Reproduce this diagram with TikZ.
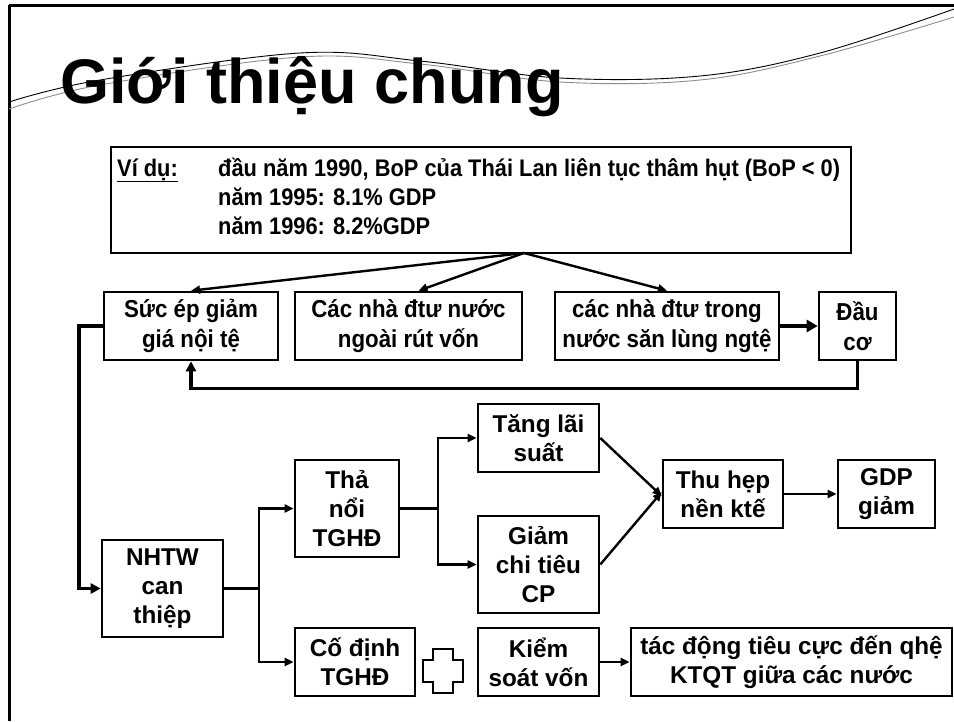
\documentclass[tikz,border=0pt]{standalone}
\usepackage{fontspec}
\setmainfont{Liberation Sans}
\newfontfamily\narrowsans{Liberation Sans}[FakeStretch=0.91]
\usetikzlibrary{arrows.meta,calc}
\tikzset{
  box/.style={draw,line width=2.6pt,inner sep=0pt,align=center,
    font=\bfseries\fontsize{24.3}{29}\selectfont},
  nbox/.style={box,font=\narrowsans\bfseries\fontsize{24.5}{30}\selectfont},
  conn/.style={line width=2.6pt},
  arr/.style={line width=2.4pt,-{Triangle[length=9pt,width=8pt]}},
  lbl/.style={inner sep=0pt,font=\narrowsans\bfseries\fontsize{24}{30}\selectfont}
}
\begin{document}
\begin{tikzpicture}[x=1pt,y=-1pt]
\useasboundingbox (0,0) rectangle (954,721);
% frame
\draw[line width=3pt] (9,5) -- (954,5);
\draw[line width=3pt] (9,5) -- (9,721);
% wave
\draw[line width=0.9pt,black] plot[smooth,tension=0.6] coordinates
  {(9,102) (100,80) (300,53) (420,61) (560,78) (700,76) (820,53) (954,9)};
\draw[line width=0.9pt,black!45] plot[smooth,tension=0.6] coordinates
  {(9,109) (100,85) (300,57) (420,64) (560,82) (700,80) (820,56) (954,17)};
% title
\node[anchor=base west,inner sep=0pt,font=\bfseries\fontsize{63}{70}\selectfont] (title) at (60,103) {Giới thiệu chung};
% example box
\node[box,minimum width=740pt,minimum height=106pt] (ex) at (481,200) {};
\node[lbl,anchor=base west] (vidu) at (117,176) {\underline{Ví dụ:}};
\node[lbl,anchor=base west] (ex1) at (218,176) {đầu năm 1990, BoP của Thái Lan liên tục thâm hụt (BoP < 0)};
\node[lbl,anchor=base west] (ex2) at (218,205) {năm 1995: 8.1\% GDP};
\node[lbl,anchor=base west] (ex3) at (218,234) {năm 1996: 8.2\%GDP};
\coordinate (apex) at (524,253);
% top row
\node[nbox,minimum width=174pt,minimum height=68pt] (s1) at (191,326) {Sức ép giảm\\giá nội tệ};
\node[nbox,minimum width=227pt,minimum height=68pt] (s2) at (408.5,326) {Các nhà đtư nước\\ngoài rút vốn};
\node[nbox,minimum width=224pt,minimum height=68pt] (s3) at (667,326) {các nhà đtư trong\\nước săn lùng ngtệ};
\node[nbox,minimum width=77pt,minimum height=68pt] (s4) at (857.5,326) {Đầu\\cơ};
\draw[arr] (apex) -- (s1.north);
\draw[arr] (apex) -- ([xshift=10pt]s2.north);
\draw[arr] (apex) -- (s3.north);
\draw[line width=4.5pt,-{Triangle[length=11pt,width=12pt]}] (s3.east) -- (s4.west);
\draw[line width=3.5pt,-{Triangle[length=10pt,width=10pt]}] (s4.south) -- ++(0,27) -| (s1.south);
% lower part
\node[box,minimum width=121pt,minimum height=97pt] (nh) at (162.5,588.5) {NHTW\\can\\thiệp};
\node[box,minimum width=104pt,minimum height=97pt] (tn) at (347,508.5) {Thả\\nổi\\TGHĐ};
\node[box,minimum width=120pt,minimum height=68pt] (cd) at (355,662) {Cố định\\TGHĐ};
\node[box,minimum width=121pt,minimum height=68pt] (tl) at (538.5,438) {Tăng lãi\\suất};
\node[box,minimum width=121pt,minimum height=97pt] (gc) at (538.5,564.5) {Giảm\\chi tiêu\\CP};
\node[box,minimum width=120pt,minimum height=68pt] (th) at (723,494) {Thu hẹp\\nền ktế};
\node[box,minimum width=97pt,minimum height=68pt] (gdp) at (886.5,494) {GDP\\giảm};
\node[box,minimum width=121pt,minimum height=68pt] (ks) at (538.5,662) {Kiểm\\soát vốn};
\node[box,minimum width=321pt,minimum height=68pt] (td) at (791.5,662) {tác động tiêu cực đến qhệ\\KTQT giữa các nước};
% connectors
\draw[line width=3.5pt,-{Triangle[length=10pt,width=10pt]}] (s1.west) -- (79,326) |- (nh.west);
\draw[conn] (nh.east) -- (259,588.5) coordinate (b1);
\draw[arr] (b1) |- (tn.west);
\draw[arr] (b1) |- (cd.west);
\draw[conn] (tn.east) -- (438,508.5) coordinate (b2);
\draw[arr] (b2) |- (tl.west);
\draw[arr] (b2) |- (gc.west);
\draw[arr] (tl.east) -- ([yshift=-2pt]th.west);
\draw[arr] (gc.east) -- ([yshift=2pt]th.west);
\draw[arr] (th.east) -- (gdp.west);
\draw[arr] (ks.east) -- (td.west);
% plus sign
\draw[line width=2.6pt] (433,649) -- (453,649) -- (453,660) -- (463,660) -- (463,682)
  -- (453,682) -- (453,693) -- (433,693) -- (433,682) -- (423,682) -- (423,660)
  -- (433,660) -- cycle;
\end{tikzpicture}
\end{document}
